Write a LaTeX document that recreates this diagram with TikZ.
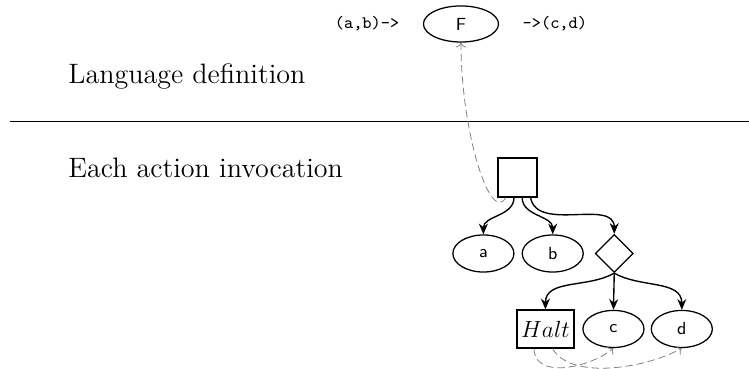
\documentclass[tikz,border=0pt]{standalone}
\usetikzlibrary{positioning,shapes.geometric,arrows.meta}
\begin{document}
\begin{tikzpicture}[x=1pt,y=1pt]
    \tikzstyle{value} = [ellipse, draw, line width=0.65pt, minimum width=31.3pt, minimum height=19pt, inner sep=0pt, font=\sffamily\small]
    \tikzstyle{func} = [ellipse, draw, line width=0.65pt, minimum width=38.5pt, minimum height=18.5pt, inner sep=0pt, font=\sffamily\small]
    \tikzstyle{sig} = [font=\ttfamily\small]
    \tikzstyle{heading} = [anchor=base west, font=\Large]
    \tikzstyle{arrow} = [line width=0.7pt,-{Stealth[length=5.5pt,width=4.6pt]}]
    \tikzstyle{link} = [gray, dash pattern=on 3.8pt off 2pt, ->]

    \useasboundingbox (0,0) rectangle (384.1,-189.2);

    % language definition
    \node [func] (F) at (236.4,-12.3) {F};
    \node [sig, left=8.5pt of F] (in) {(a,b)->};
    \node [sig, right=8.5pt of F] (out) {->(c,d)};
    \node [heading] (langdef) at (31.5,-42.6) {Language definition};

    \draw [semithick] (5.1,-62.1) -- (384.1,-62.1);

    % each action invocation
    \node [heading] (invoc) at (31.5,-90.8) {Each action invocation};
    \node [rectangle, draw, line width=0.65pt, minimum size=20pt] (act) at (265.4,-91.0) {};
    \node [value] (a) at (247.9,-130.0) {a};
    \node [value, right=3.6pt of a] (b) {b};
    \node [diamond, draw, line width=0.65pt, minimum width=19.5pt, minimum height=19.5pt, inner sep=0pt, right=5.5pt of b] (choice) {};
    \node [rectangle, draw, line width=0.65pt, minimum width=29.2pt, minimum height=19.5pt, inner sep=1pt, font=\large] (halt) at (279.7,-168.7) {$Halt$};
    \node [value, right=4pt of halt] (c) {c};
    \node [value, right=3.1pt of c] (d) {d};

    \draw [arrow] (act.-100) to[out=-90,in=90] (a.north);
    \draw [arrow] (act.-77) to[out=-90,in=90] (b.north);
    \draw [arrow] (act.-57) to[out=-80,in=90] (choice.north);
    \draw [arrow] (choice.south) to[out=-150,in=90] (halt.north);
    \draw [arrow] (choice.south) -- (c.north);
    \draw [arrow] (choice.south) to[out=-30,in=90] (d.north);

    \draw [link] (act) to[out=-120,in=-90,out looseness=0.5,in looseness=1.4] (F);
    \draw [link] (halt.-120) to[out=-90,in=-140] (c.south);
    \draw [link] (halt.-70) to[out=-60,in=-150,looseness=0.75] (d.south);
\end{tikzpicture}
\end{document}
